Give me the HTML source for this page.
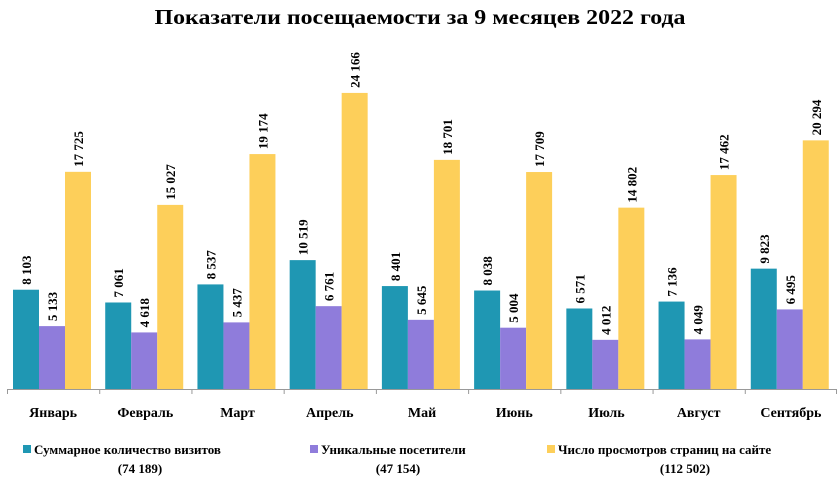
<!DOCTYPE html>
<html><head><meta charset="utf-8"><style>
body{margin:0;background:#fff}
svg{display:block;font-family:"Liberation Serif","DejaVu Serif",serif;font-weight:bold}
</style></head><body>
<svg id="chart" width="840" height="480" viewBox="0 0 840 480" xmlns="http://www.w3.org/2000/svg">
<text x="420" y="24" text-anchor="middle" font-size="21" fill="#000" textLength="531" lengthAdjust="spacingAndGlyphs">Показатели посещаемости за 9 месяцев 2022 года</text>
<g id="plot"></g>
<line x1="7" y1="389.5" x2="837" y2="389.5" stroke="#999" stroke-width="1"/>
<g font-size="13">
<rect x="23" y="445" width="8" height="8" fill="#1f97b3"/>
<text x="34" y="454">Суммарное количество визитов</text>
<text x="140" y="473" text-anchor="middle">(74 189)</text>
<rect x="310" y="445" width="8" height="8" fill="#8f7cdb"/>
<text x="321" y="454">Уникальные посетители</text>
<text x="398" y="473" text-anchor="middle">(47 154)</text>
<rect x="547" y="445" width="8" height="8" fill="#fdcf5a"/>
<text x="558" y="454">Число просмотров страниц на сайте</text>
<text x="685" y="473" text-anchor="middle">(112 502)</text>
</g>
</svg>
<script>
const categories=["Январь","Февраль","Март","Апрель","Май","Июнь","Июль","Август","Сентябрь"];
const visits=[8103,7061,8537,10519,8401,8038,6571,7136,9823];
const unique=[5133,4618,5437,6761,5645,5004,4012,4049,6495];
const views=[17725,15027,19174,24166,18701,17709,14802,17462,20294];
const yMax=31750;
const x0=7,x1=837,base=389,top0=0;
const groupW=(x1-x0)/categories.length, barW=26, off=6;
function yScale(v){return base-(v/yMax)*(base-top0);}
function fmt(v){return String(v).replace(/\B(?=(\d{3})+(?!\d))/g,' ');}
const NS="http://www.w3.org/2000/svg";
const plot=document.getElementById('plot');
const series=[{d:visits,c:'#1f97b3',n:'visits'},{d:unique,c:'#8f7cdb',n:'unique'},{d:views,c:'#fdcf5a',n:'views'}];
categories.forEach((cat,i)=>{
  const gx=x0+i*groupW;
  const t=document.createElementNS(NS,'line');
  
  
  t.setAttribute('x1',gx+0.5);t.setAttribute('x2',gx+0.5);t.setAttribute('y1',base);t.setAttribute('y2',base+5);t.setAttribute('stroke','#999');
  plot.appendChild(t);
  series.forEach((s,j)=>{
    const v=s.d[i],y=yScale(v),bx=gx+off+j*barW;
    const r=document.createElementNS(NS,'rect');
    
    
    r.setAttribute('x',bx);r.setAttribute('y',y);r.setAttribute('width',barW);r.setAttribute('height',base-y);r.setAttribute('fill',s.c);
    plot.appendChild(r);
    const lb=document.createElementNS(NS,'text');
    
    
    const cx=bx+barW/2+5,cy=y-5;
    lb.setAttribute('x',cx);lb.setAttribute('y',cy);lb.setAttribute('font-size','13');
    lb.setAttribute('transform','rotate(-90 '+cx+' '+cy+')');
    lb.textContent=fmt(v);
    plot.appendChild(lb);
  });
  const cl=document.createElementNS(NS,'text');
  
  
  cl.setAttribute('x',gx+groupW/2);cl.setAttribute('y',417);cl.setAttribute('text-anchor','middle');cl.setAttribute('font-size','14');
  cl.textContent=cat;
  plot.appendChild(cl);
});
const lt=document.createElementNS(NS,'line');


lt.setAttribute('x1',x1-0.5);lt.setAttribute('x2',x1-0.5);lt.setAttribute('y1',base);lt.setAttribute('y2',base+5);lt.setAttribute('stroke','#999');
plot.appendChild(lt);
</script>
</body></html>
